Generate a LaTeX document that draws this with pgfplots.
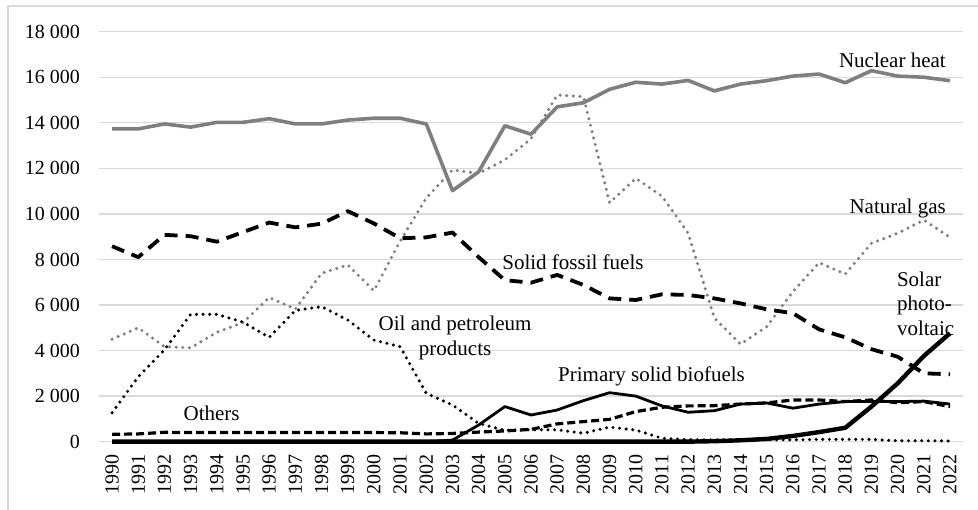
\documentclass[border=0pt]{standalone}
\usepackage{pgfplots}
\pgfplotsset{compat=1.18}
\usepackage{pgfplotstable}
\usepackage{fontspec}
\setmainfont{Liberation Serif}
\definecolor{gridgray}{HTML}{D9D9D9}
\definecolor{linegray}{HTML}{7F7F7F}
\pgfplotstableread{
year nuclear gas solid oil bio others solar
1990 13730 4500 8580 1270 0 320 0
1991 13730 5000 8100 2850 0 340 0
1992 13950 4170 9080 4030 0 410 0
1993 13810 4120 9020 5590 0 400 0
1994 14020 4800 8780 5590 0 400 0
1995 14020 5230 9200 5250 0 400 0
1996 14180 6330 9620 4580 0 400 0
1997 13950 5820 9410 5760 0 400 0
1998 13950 7390 9570 5930 0 400 0
1999 14120 7760 10120 5340 0 400 0
2000 14200 6630 9580 4460 0 400 0
2001 14200 8800 8930 4170 0 390 0
2002 13950 10700 8970 2120 0 340 0
2003 11020 11930 9180 1610 70 360 0
2004 11850 11780 8100 800 730 420 0
2005 13870 12370 7090 500 1540 470 0
2006 13500 13300 6980 520 1170 540 0
2007 14700 15220 7320 520 1390 780 0
2008 14880 15150 6880 370 1800 880 0
2009 15470 10490 6290 640 2150 980 0
2010 15780 11560 6220 510 2000 1320 0
2011 15700 10780 6470 150 1570 1510 0
2012 15860 9150 6440 90 1290 1570 0
2013 15400 5430 6290 80 1360 1580 20
2014 15700 4280 6070 80 1650 1650 60
2015 15850 5050 5810 80 1700 1700 120
2016 16050 6590 5640 80 1470 1830 250
2017 16140 7860 4930 100 1650 1830 420
2018 15760 7360 4580 100 1760 1760 610
2019 16290 8710 4060 100 1760 1830 1540
2020 16050 9150 3730 40 1760 1710 2560
2021 16000 9730 3000 40 1780 1760 3760
2022 15850 8970 2960 30 1650 1540 4760
}\datatable
\begin{document}
\begin{tikzpicture}
\begin{axis}[
  scale only axis,
  width=864.2bp, height=410bp,
  xmin=1989.5, xmax=2022.5,
  ymin=0, ymax=18000,
  scaled y ticks=false,
  axis line style={draw=none},
  clip=false,
  ymajorgrids,
  grid style={gridgray, line width=1.3bp},
  major tick length=0pt,
  xtick={1990,...,2022},
  ytick={0,2000,...,18000},
  yticklabels={0,2 000,4 000,6 000,8 000,10 000,12 000,14 000,16 000,18 000},
  xticklabel style={/pgf/number format/1000 sep=, /pgf/number format/assume math mode=true,
     yshift=-13bp, rotate=90, anchor=east, inner sep=0pt, font=\fontsize{20bp}{24bp}\selectfont},
  yticklabel style={anchor=east, inner sep=0pt, xshift=-19bp, font=\fontsize{20bp}{24bp}\selectfont},
  every axis plot/.append style={line join=round},
]
\addplot[linegray, line width=3.6bp] table[x=year, y=nuclear] {\datatable};
\addplot[linegray, line width=3.4bp, line cap=round, dash pattern=on 0bp off 6.6bp] table[x=year, y=gas] {\datatable};
\addplot[black, line width=3.8bp, dash pattern=on 13bp off 8bp] table[x=year, y=solid] {\datatable};
\addplot[black, line width=3.4bp, line cap=round, dash pattern=on 0bp off 6.6bp] table[x=year, y=oil] {\datatable};
\addplot[black, line width=2.8bp] table[x=year, y=bio] {\datatable};
\addplot[black, line width=3.2bp, dash pattern=on 8bp off 4bp] table[x=year, y=others] {\datatable};
\addplot[black, line width=4.4bp] table[x=year, y=solar] {\datatable};

\begin{scope}[every node/.style={inner sep=0pt, font=\fontsize{21bp}{24.5bp}\selectfont}]
\node at (axis cs:2019.8,16760) {Nuclear heat};
\node at (axis cs:2020.0,10250) {Natural gas};
\node at (axis cs:2007.6,7890) {Solid fossil fuels};
\node[align=center] at (axis cs:2003.1,4550) {Oil and petroleum\\products};
\node at (axis cs:2010.6,2880) {Primary solid biofuels};
\node at (axis cs:1993.8,1260) {Others};
\node[anchor=west, align=left] at (axis cs:2019.97,6070) {Solar\\photo-\\voltaic};
\end{scope}

\coordinate (bl) at ([xshift=-99bp, yshift=-68.3bp]rel axis cs:0,0);
\coordinate (tr) at ([xshift=14.9bp, yshift=31.7bp]rel axis cs:1,1);
\draw[gridgray, line width=1.2bp] ([xshift=-91bp, yshift=-68.3bp]rel axis cs:0,0) -- ([xshift=-91bp, yshift=25.7bp]rel axis cs:0,1) -- ([xshift=14.9bp, yshift=25.7bp]rel axis cs:1,1);
\end{axis}
\pgfresetboundingbox
\useasboundingbox (bl) rectangle (tr);
\end{tikzpicture}
\end{document}
